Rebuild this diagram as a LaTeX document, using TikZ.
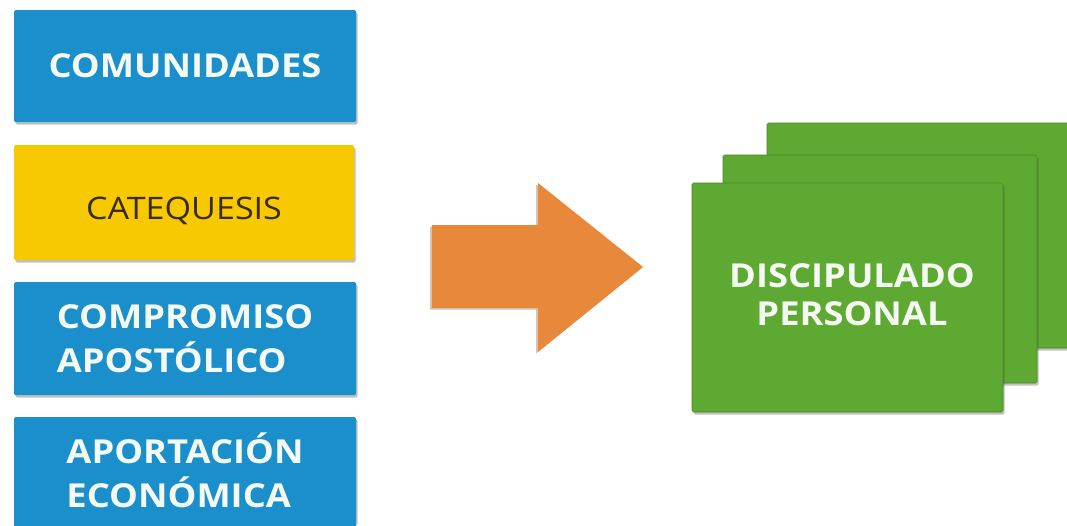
\documentclass[tikz,border=0pt]{standalone}
\usepackage{fontspec}
\setmainfont{Open Sans}[FakeStretch=1.1]
\usetikzlibrary{shadows}
\definecolor{boxblue}{HTML}{1A8FCC}
\definecolor{boxyellow}{HTML}{F7C900}
\definecolor{boxgreen}{HTML}{5EA932}
\definecolor{arroworange}{HTML}{E8883A}
\definecolor{textbrown}{HTML}{3B2A0E}
\definecolor{textwhite}{HTML}{F4FAF2}
\tikzset{
  shade/.style={drop shadow={shadow xshift=1.5pt, shadow yshift=-2.5pt, opacity=0.35, fill=black!70}},
  listbox/.style={shade, rounded corners=1.5pt, inner sep=0pt, minimum width=342pt, align=left,
    font=\fontsize{33}{44}\selectfont\bfseries, text=textwhite},
  bluebox/.style={listbox, fill=boxblue},
  yellowbox/.style={listbox, fill=boxyellow, font=\fontsize{31}{40}\selectfont, text=textbrown},
  card/.style={shade, fill=boxgreen, rounded corners=1.5pt, inner sep=0pt, draw=boxgreen!80!black, line width=0.6pt},
  cardtext/.style={font=\fontsize{33}{38}\selectfont\bfseries, text=textwhite, align=center},
}
\begin{document}
\begin{tikzpicture}[x=1pt,y=-1pt]
  \useasboundingbox (0,0) rectangle (1067,525);
  \fill[white] (0,0) rectangle (1067,525);
  % left list
  \node[bluebox, minimum height=112pt] (comunidades) at (185,66) {COMUNIDADES};
  \node[yellowbox, minimum height=115pt, minimum width=340pt, text height=33pt, text depth=0pt] (catequesis) at (184,202.5) {CATEQUESIS};
  \node[bluebox, minimum height=113pt] (compromiso) at (185,338.5) {COMPROMISO\\APOSTÓLICO};
  \node[bluebox, minimum height=106pt] (aportacion) at (185,470) {APORTACIÓN\\ECONÓMICA};
  \fill[boxblue] ([yshift=3pt]aportacion.south west) rectangle ++(342,12);
  % big arrow
  \fill[arroworange, drop shadow={shadow xshift=-2pt, shadow yshift=-1.5pt, opacity=0.35, fill=arroworange!60!black}]
    (432,225) -- (538,225) -- (538,183) -- (643,267) -- (538,352) -- (538,308) -- (432,308) -- cycle;
  % stacked cards
  \node[card, minimum width=320pt, minimum height=225pt] (cardback) at (927,235.5) {};
  \node[card, minimum width=314pt, minimum height=228pt] (cardmid) at (880,269) {};
  \node[card, minimum width=311pt, minimum height=229pt] (cardfront) at (847.5,297.5) {};
  \node[cardtext] (disc) at (852,295) {DISCIPULADO\\PERSONAL};
\end{tikzpicture}
\end{document}
